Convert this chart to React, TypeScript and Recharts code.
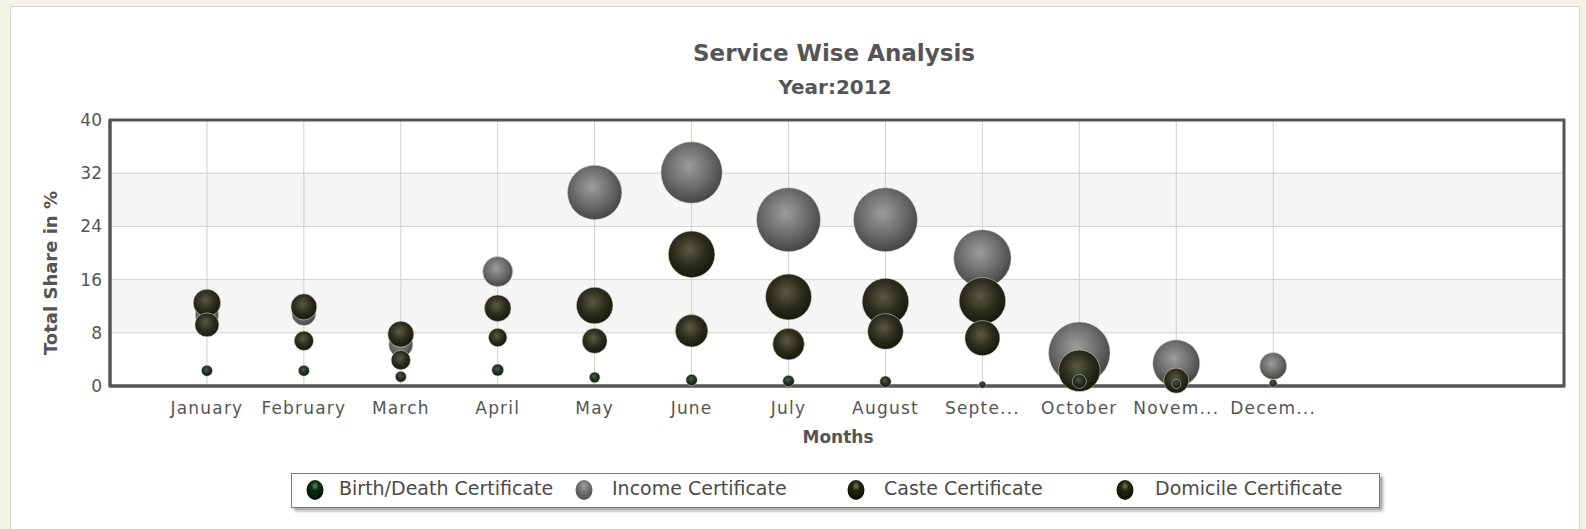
import React from 'react';
import { ScatterChart, Scatter, XAxis, YAxis, ZAxis, CartesianGrid, ReferenceArea } from 'recharts';

const monthLabels = ['January', 'February', 'March', 'April', 'May', 'June', 'July', 'August', 'Septe...', 'October', 'Novem...', 'Decem...'];
const monthPositions = [1, 2, 3, 4, 5, 6, 7, 8, 9, 10, 11, 12];
const yTicks = [0, 8, 16, 24, 32, 40];

const incomeValues = [10.7, 10.9, 6.2, 17.2, 29.1, 32.1, 25.0, 25.0, 19.2, 5.0, 3.4, 3.0];
const incomeSizes = [13.4, 14.1, 14.1, 22, 72.3, 92, 100, 100, 80.4, 92.6, 54, 17.8];

const casteValues = [12.5, 11.9, 7.8, 11.7, 12.1, 19.8, 13.4, 12.7, 12.8, 2.3, 0.8, null];
const casteSizes = [18.3, 16.5, 16.5, 17.3, 32.7, 53, 51.7, 53, 53, 42.3, 15.3, null];

const domicileValues = [9.2, 6.8, 3.9, 7.3, 6.8, 8.3, 6.3, 8.2, 7.2, null, null, null];
const domicileSizes = [14.1, 9.2, 9.2, 8.4, 15.3, 26, 24.4, 31, 30, null, null, null];

const birthValues = [2.3, 2.3, 1.4, 2.4, 1.3, 0.9, 0.75, 0.65, 0.2, 0.7, 0.3, 0.4];
const birthSizes = [3, 3, 3, 3.5, 2.8, 3.2, 3.3, 3.2, 1.2, 4.8, 2, 1.5];

const build = (values: (number | null)[], sizes: (number | null)[]) =>
  monthPositions
    .map((m, i) => ({ x: m, y: values[i], z: sizes[i], month: monthLabels[i] }))
    .filter((d) => d.y !== null && d.z !== null);

const incomeData = build(incomeValues, incomeSizes);
const casteData = build(casteValues, casteSizes);
const domicileData = build(domicileValues, domicileSizes);
const birthData = build(birthValues, birthSizes);

const FONT = '"DejaVu Sans", Verdana, sans-serif';

const makeBubble = (fill: string) => (props: any) => {
  const { cx, cy, size, width } = props;
  if (cx == null || cy == null) return <g />;
  const r = width ? width / 2 : Math.sqrt(Math.max(size || 0, 0) / Math.PI);
  return (
    <circle
      cx={cx}
      cy={cy}
      r={r}
      fill={fill}
      stroke="#d8d8c4"
      strokeOpacity={0.55}
      strokeWidth={1}
    />
  );
};

const legendItems = [
  { label: 'Birth/Death Certificate', fill: 'url(#lgBirth)', mx: 315, tx: 339 },
  { label: 'Income Certificate', fill: 'url(#lgIncome)', mx: 584, tx: 612 },
  { label: 'Caste Certificate', fill: 'url(#lgOlive)', mx: 856, tx: 884 },
  { label: 'Domicile Certificate', fill: 'url(#lgOlive)', mx: 1125, tx: 1155 },
];

export default function App() {
  return (
    <div
      style={{
        position: 'fixed',
        left: 0,
        top: 0,
        width: 1586,
        height: 529,
        background: '#f3f3e6',
        overflow: 'hidden',
        fontFamily: FONT,
      }}
    >
      <svg width={0} height={0} style={{ position: 'absolute' }}>
        <defs>
          <radialGradient id="gIncome" cx="45%" cy="40%" r="60%">
            <stop offset="0%" stopColor="#9c9c9c" />
            <stop offset="55%" stopColor="#6e6e6e" />
            <stop offset="100%" stopColor="#454545" />
          </radialGradient>
          <radialGradient id="gOlive" cx="45%" cy="40%" r="60%">
            <stop offset="0%" stopColor="#5a5a42" />
            <stop offset="55%" stopColor="#2e2e1e" />
            <stop offset="100%" stopColor="#17170c" />
          </radialGradient>
          <radialGradient id="gBirth" cx="45%" cy="40%" r="60%">
            <stop offset="0%" stopColor="#4c5a4e" />
            <stop offset="55%" stopColor="#223024" />
            <stop offset="100%" stopColor="#101a12" />
          </radialGradient>
          <radialGradient id="lgBirth" cx="50%" cy="30%" r="65%">
            <stop offset="0%" stopColor="#5f8a66" />
            <stop offset="35%" stopColor="#0d3016" />
            <stop offset="100%" stopColor="#031207" />
          </radialGradient>
          <radialGradient id="lgIncome" cx="50%" cy="30%" r="65%">
            <stop offset="0%" stopColor="#a0a0a0" />
            <stop offset="50%" stopColor="#707070" />
            <stop offset="100%" stopColor="#555555" />
          </radialGradient>
          <radialGradient id="lgOlive" cx="50%" cy="30%" r="65%">
            <stop offset="0%" stopColor="#7a7a60" />
            <stop offset="35%" stopColor="#26260f" />
            <stop offset="100%" stopColor="#101006" />
          </radialGradient>
        </defs>
      </svg>

      <div
        style={{
          position: 'absolute',
          left: 10,
          top: 6,
          width: 1568,
          height: 540,
          background: '#ffffff',
          border: '1px solid #d6d6ca',
        }}
      />

      <div style={{ position: 'absolute', left: 0, top: 0 }}>
        <ScatterChart width={1586} height={529} margin={{ top: 120, right: 22, left: 0, bottom: 0 }}>
          <CartesianGrid
            stroke="#d0d0d0"
            horizontalFill={['#ffffff', '#f5f5f5']}
            fillOpacity={1}
          />
          <XAxis
            type="number"
            dataKey="x"
            domain={[0, 15]}
            ticks={monthPositions}
            interval={0}
            height={143}
            tickLine={false}
            tickSize={0}
            tickMargin={16}
            axisLine={{ stroke: '#555555', strokeWidth: 3 }}
            tick={{ fill: '#555555', fontSize: 17, fontFamily: FONT, letterSpacing: 1.2 }}
            tickFormatter={(v: number) => monthLabels[v - 1] ?? ''}
          />
          <YAxis
            type="number"
            dataKey="y"
            domain={[0, 40]}
            ticks={yTicks}
            interval={0}
            width={110}
            tickLine={false}
            tickSize={0}
            tickMargin={8}
            axisLine={{ stroke: '#555555', strokeWidth: 3 }}
            tick={{ fill: '#555555', fontSize: 17, fontFamily: FONT }}
          />
          <ZAxis type="number" dataKey="z" domain={[0, 100]} range={[0, 3217]} />
          <ReferenceArea x1={0} x2={15} y1={0} y2={40} fill="none" stroke="#555555" strokeWidth={3} />
          <Scatter name="Income Certificate" data={incomeData} isAnimationActive={false} shape={makeBubble('url(#gIncome)')} />
          <Scatter name="Caste Certificate" data={casteData} isAnimationActive={false} shape={makeBubble('url(#gOlive)')} />
          <Scatter name="Domicile Certificate" data={domicileData} isAnimationActive={false} shape={makeBubble('url(#gOlive)')} />
          <Scatter name="Birth/Death Certificate" data={birthData} isAnimationActive={false} shape={makeBubble('url(#gBirth)')} />
        </ScatterChart>
      </div>

      <div
        style={{
          position: 'absolute',
          left: 534,
          width: 600,
          top: 42,
          textAlign: 'center',
          fontSize: 23,
          lineHeight: '23px',
          fontWeight: 'bold',
          color: '#555555',
          whiteSpace: 'nowrap',
        }}
      >
        Service Wise Analysis
      </div>
      <div
        style={{
          position: 'absolute',
          left: 535,
          width: 600,
          top: 77,
          textAlign: 'center',
          fontSize: 20,
          lineHeight: '20px',
          fontWeight: 'bold',
          color: '#555555',
          whiteSpace: 'nowrap',
        }}
      >
        Year:2012
      </div>
      <div
        style={{
          position: 'absolute',
          left: 638,
          width: 400,
          top: 429,
          textAlign: 'center',
          fontSize: 17,
          lineHeight: '17px',
          fontWeight: 'bold',
          color: '#555555',
          whiteSpace: 'nowrap',
        }}
      >
        Months
      </div>
      <div
        style={{
          position: 'absolute',
          left: 51 - 150,
          width: 300,
          top: 273 - 9,
          textAlign: 'center',
          fontSize: 18,
          lineHeight: '18px',
          fontWeight: 'bold',
          color: '#555555',
          whiteSpace: 'nowrap',
          transform: 'rotate(-90deg)',
        }}
      >
        Total Share in %
      </div>

      <div
        style={{
          position: 'absolute',
          left: 291,
          top: 473,
          width: 1087,
          height: 33,
          background: '#ffffff',
          border: '1px solid #7a7a7a',
          boxShadow: '3px 3px 3px rgba(0,0,0,0.35)',
        }}
      />
      {legendItems.map((it) => (
        <React.Fragment key={it.label}>
          <svg
            width={20}
            height={22}
            style={{ position: 'absolute', left: it.mx - 10, top: 490 - 11 }}
          >
            <ellipse cx={10} cy={11} rx={8.5} ry={10} fill={it.fill} />
          </svg>
          <div
            style={{
              position: 'absolute',
              left: it.tx,
              top: 479,
              fontSize: 19,
              lineHeight: '19px',
              color: '#4a4a4a',
              whiteSpace: 'nowrap',
            }}
          >
            {it.label}
          </div>
        </React.Fragment>
      ))}
    </div>
  );
}
